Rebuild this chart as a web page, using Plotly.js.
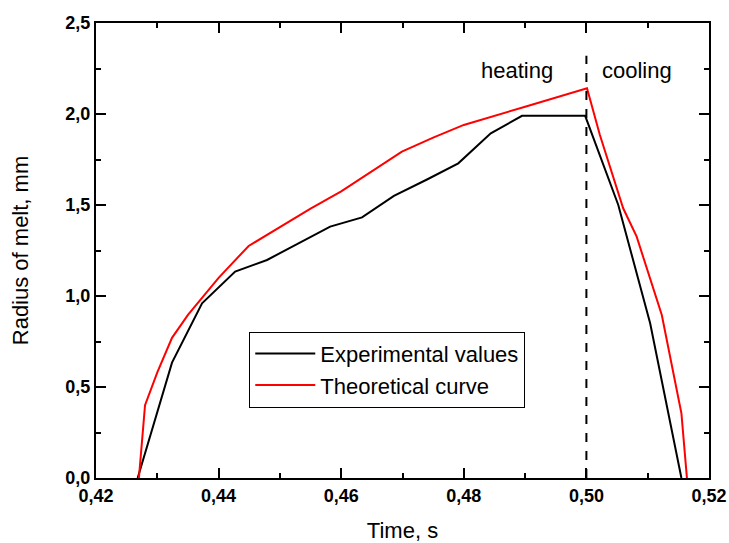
<!DOCTYPE html>
<html>
<head>
<meta charset="utf-8">
<script src="https://cdn.plot.ly/plotly-3.0.1.min.js"></script>
<style>html,body{margin:0;padding:0;background:#fff;}#chart{width:729px;height:543px;}</style>
</head>
<body>
<div id="chart"></div>
<script>
const expTime = [0.4268, 0.4324, 0.4373, 0.4427, 0.4479, 0.4530, 0.4582, 0.4634, 0.4686, 0.4740, 0.4791, 0.4844, 0.4895, 0.4998, 0.5052, 0.5104, 0.5155];
const expRadius = [0.0, 0.634, 0.96, 1.134, 1.198, 1.29, 1.381, 1.432, 1.55, 1.64, 1.729, 1.894, 1.99, 1.99, 1.50, 0.85, 0.0];

const theoTime = [0.4270, 0.4280, 0.4300, 0.4324, 0.4350, 0.4375, 0.4400, 0.4449, 0.4500, 0.4550, 0.4600, 0.4650, 0.4699, 0.4750, 0.4800, 0.4900, 0.5001, 0.5022, 0.5060, 0.5082, 0.5123, 0.5155, 0.5164];
const theoRadius = [0.0, 0.40, 0.58, 0.77, 0.896, 1.0, 1.10, 1.275, 1.38, 1.48, 1.575, 1.685, 1.793, 1.87, 1.94, 2.04, 2.141, 1.885, 1.482, 1.326, 0.896, 0.355, 0.0];

const seriesNames = ["Experimental values", "Theoretical curve"];
const phaseLabels = ["heating", "cooling"];
const phaseX = [0.4887, 0.5082];
const phaseY = 2.24;
const boundaryX = 0.50;
const boundaryTop = 2.32;

const fontFam = "Arial, 'Liberation Sans', sans-serif";

const traces = [
  {x: expTime, y: expRadius, mode: "lines", name: seriesNames[0], line: {color: "#000000", width: 2}},
  {x: theoTime, y: theoRadius, mode: "lines", name: seriesNames[1], line: {color: "#ff0000", width: 2}}
];

const axisCommon = {
  showline: true, linecolor: "#000", linewidth: 2, mirror: "allticks",
  ticks: "inside", ticklen: 10, tickwidth: 2, tickcolor: "#000",
  showgrid: false, zeroline: false,
  tickfont: {family: fontFam, size: 18, color: "#000", weight: "bold"},
};

const layout = {
  width: 729, height: 543,
  margin: {l: 95.5, r: 20, t: 23, b: 65},
  paper_bgcolor: "#fff", plot_bgcolor: "#fff",
  separators: ",.",
  showlegend: true,
  legend: {
    x: 0.25, y: 0.3215, xanchor: "left", yanchor: "top",
    bordercolor: "#000", borderwidth: 1, bgcolor: "#fff",
    font: {family: fontFam, size: 22, color: "#000"},
    itemwidth: 60,
    tracegroupgap: 0
  },
  xaxis: Object.assign({}, axisCommon, {
    range: [0.42, 0.52], tick0: 0.42, dtick: 0.02, tickformat: ".2f",
    minor: {ticks: "inside", ticklen: 5, tickwidth: 2, tickcolor: "#000", dtick: 0.01, tick0: 0.42, showgrid: false},
    title: {text: "Time, s", font: {family: fontFam, size: 22, color: "#000"}, standoff: 32}
  }),
  yaxis: Object.assign({}, axisCommon, {
    range: [0, 2.5], tick0: 0, dtick: 0.5, tickformat: ".1f",
    minor: {ticks: "inside", ticklen: 5, tickwidth: 2, tickcolor: "#000", dtick: 0.25, tick0: 0, showgrid: false},
    title: {text: "Radius of melt, mm", font: {family: fontFam, size: 22, color: "#000"}, standoff: 31}
  }),
  shapes: [{
    type: "line", xref: "x", yref: "y",
    x0: boundaryX, x1: boundaryX, y0: 0, y1: boundaryTop,
    line: {color: "#000", width: 2, dash: "dash"}
  }],
  annotations: phaseLabels.map((t, i) => ({
    x: phaseX[i], y: phaseY, xref: "x", yref: "y", text: t, showarrow: false,
    font: {family: fontFam, size: 22, color: "#000"}, xanchor: "center", yanchor: "middle"
  }))
};

Plotly.newPlot("chart", traces, layout, {displayModeBar: false, staticPlot: true});
</script>
</body>
</html>
